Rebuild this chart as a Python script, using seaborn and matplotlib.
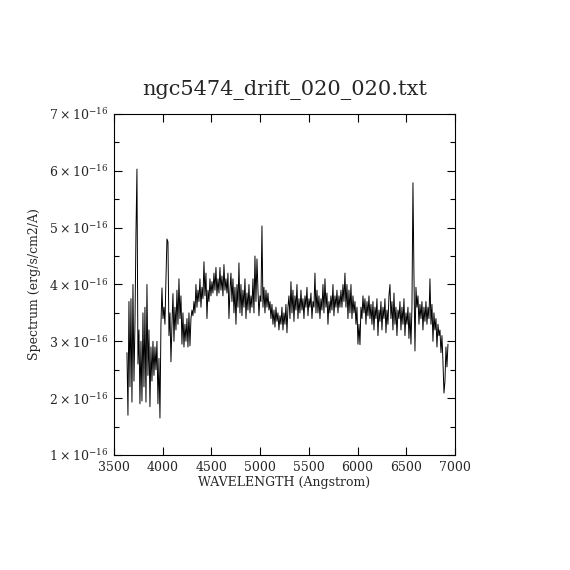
import numpy as np
import pandas as pd
import seaborn as sns
import matplotlib
matplotlib.use("Agg")
import matplotlib.pyplot as plt
from matplotlib.ticker import MultipleLocator, FuncFormatter

# rango de longitudes de onda del espectro (Angstrom)
wave_start = 3633
wave_end = 6928

# flujo, en unidades de 1e-16 erg/s/cm2/A
flux = [
    2.8, 1.7, 3.7, 2.2, 3.75, 1.93, 4.0, 2.3, 3.3, 4.9,
    6.03, 2.6, 3.2, 1.9, 3.0, 1.95, 3.5, 2.2, 3.6, 1.93,
    4.0, 2.4, 3.2, 1.85, 2.9, 2.3, 3.0, 2.4, 2.9, 2.5,
    3.0, 1.9, 2.7, 1.65, 3.3, 3.94, 3.4, 3.6, 3.3, 4.1,
    4.8, 4.75, 3.1, 3.5, 2.64, 3.3, 3.84, 3.0, 3.6, 3.2,
    3.9, 3.3, 4.1, 3.4, 3.8, 2.95, 3.5, 2.9, 3.3, 3.0,
    3.4, 2.9, 3.5, 2.92, 3.4, 3.55, 3.45, 3.7, 3.5, 4.0,
    3.6, 3.9, 3.7, 4.1, 3.6, 3.95, 3.75, 4.4, 3.8, 4.2,
    3.4, 3.9, 3.7, 4.1, 3.8, 4.05, 3.85, 4.2, 3.9, 4.3,
    3.8, 4.1, 3.85, 4.3, 3.9, 4.15, 3.8, 4.35, 3.9, 4.1,
    3.85, 4.2, 3.4, 3.9, 4.2, 3.7, 4.1, 3.5, 3.95, 3.3,
    4.0, 3.6, 4.38, 3.5, 4.0, 3.45, 3.9, 3.6, 4.1, 3.4,
    3.85, 3.55, 4.0, 3.5, 3.8, 3.6, 4.1, 3.5, 4.5, 3.7,
    4.45, 3.9, 3.45, 3.8, 3.7, 5.03, 3.6, 3.95, 3.5, 3.9,
    3.6, 3.85, 3.55, 3.7, 3.4, 3.65, 3.3, 3.55, 3.25, 3.6,
    3.35, 3.5, 3.2, 3.45, 3.3, 3.6, 3.2, 3.5, 3.3, 3.65,
    3.15, 3.6, 3.8, 3.4, 4.05, 3.5, 3.9, 3.35, 3.8, 3.55,
    4.0, 3.4, 3.75, 3.5, 3.9, 3.55, 3.75, 3.4, 3.8, 3.6,
    3.95, 3.45, 3.75, 3.6, 3.85, 3.4, 3.7, 3.6, 4.2, 3.5,
    3.9, 3.5, 3.8, 3.4, 3.75, 3.55, 4.0, 3.5, 4.1, 3.6,
    3.85, 3.3, 3.7, 3.5, 3.8, 3.55, 4.0, 3.45, 3.8, 3.6,
    3.9, 3.5, 3.8, 3.6, 3.9, 3.6, 4.0, 3.7, 4.2, 3.6,
    4.0, 3.4, 3.9, 3.5, 4.0, 3.4, 3.8, 3.5, 3.7, 3.3,
    3.6, 2.95, 3.3, 2.94, 3.6, 3.4, 3.8, 3.5, 3.75, 3.3,
    3.7, 3.45, 3.8, 3.4, 3.65, 3.3, 3.7, 3.2, 3.6, 3.4,
    3.75, 3.1, 3.55, 3.35, 3.7, 3.2, 3.6, 3.4, 3.75, 3.15,
    3.55, 3.3, 3.8, 4.0, 3.4, 3.7, 3.2, 3.85, 3.3, 3.6,
    3.1, 3.55, 3.4, 3.7, 3.2, 3.6, 3.3, 3.75, 3.1, 3.5,
    3.3, 3.6, 3.05, 3.5, 2.95, 3.6, 5.79, 4.15, 2.83, 3.95,
    3.6, 3.8, 3.3, 3.65, 3.4, 3.7, 3.2, 3.6, 3.35, 3.7,
    3.3, 3.6, 3.4, 4.1, 3.3, 3.65, 3.0, 3.5, 3.2, 3.4,
    2.9, 3.3, 3.1, 3.2, 2.8, 3.1, 2.64, 2.09, 2.3, 2.9,
    2.55, 2.95,
]

y_ticks = [1, 2, 3, 4, 5, 6, 7]
x_ticks = [3500, 4000, 4500, 5000, 5500, 6000, 6500, 7000]

df = pd.DataFrame({
    "wave": np.linspace(wave_start, wave_end, len(flux)),
    "flux": np.array(flux) * 1e-16,
})

sns.set_style("ticks")
plt.rcParams["font.family"] = ["DejaVu Serif"]
plt.rcParams["mathtext.fontset"] = "dejavuserif"

fig = plt.figure(figsize=(5.7, 5.7), dpi=100)
ax = fig.add_axes([0.2, 0.2018, 0.5982, 0.5982])

sns.lineplot(data=df, x="wave", y="flux", color="black", linewidth=0.7,
             estimator=None, sort=False, ax=ax)

ax.set_xlim(3500, 7000)
ax.set_ylim(1e-16, 7e-16)
ax.set_xticks(x_ticks)
ax.set_yticks([v * 1e-16 for v in y_ticks])
ax.yaxis.set_minor_locator(MultipleLocator(0.5e-16))
ax.yaxis.set_major_formatter(
    FuncFormatter(lambda v, p: r"$%d\times10^{-16}$" % round(v / 1e-16)))

ax.tick_params(which="both", direction="in", top=True, right=True,
               color="black", width=0.8)
ax.tick_params(which="major", length=6, labelsize=9, pad=4)
ax.tick_params(which="minor", length=3.5)
for s in ax.spines.values():
    s.set_color("black")
    s.set_linewidth(0.8)

ax.set_xlabel("WAVELENGTH (Angstrom)", fontsize=9, labelpad=2)
ax.set_ylabel("Spectrum (erg/s/cm2/A)", fontsize=9, labelpad=6)
ax.set_title("ngc5474_drift_020_020.txt", fontsize=15, pad=14)

fig.savefig("out.png", dpi=100, facecolor="white")
